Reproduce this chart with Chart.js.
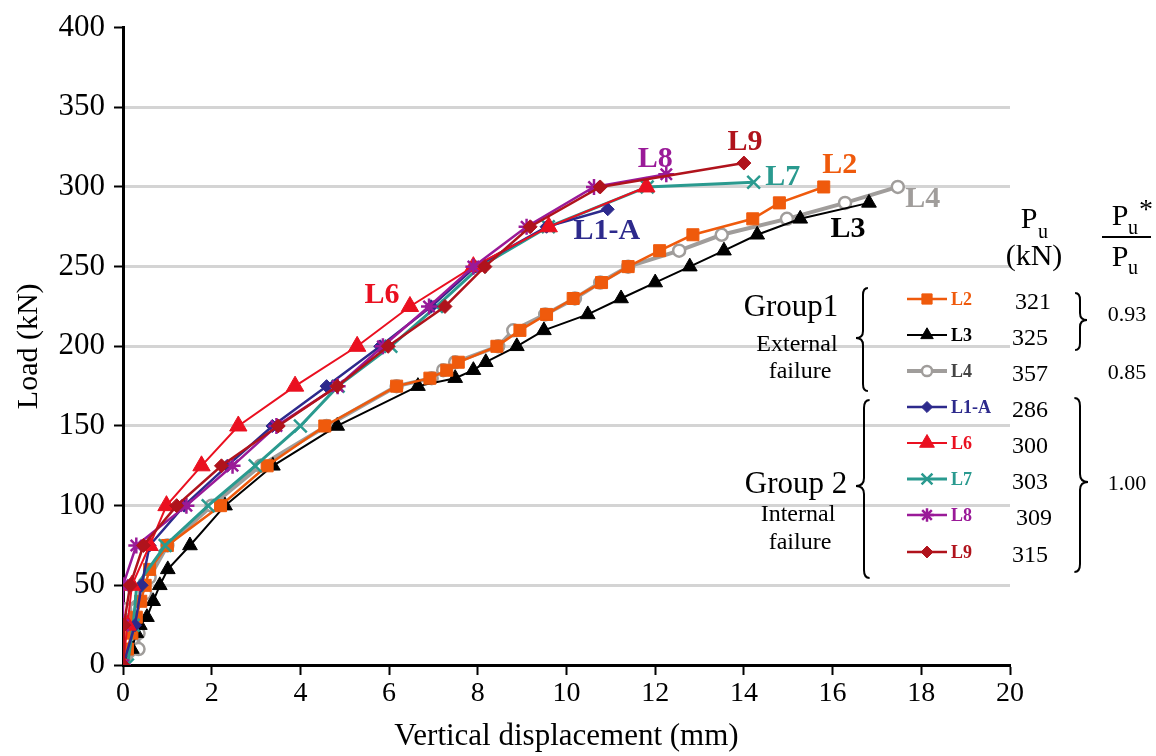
<!DOCTYPE html>
<html lang="en">
<head>
    <meta charset="UTF-8">
    <title>Load - displacement</title>
    <script src="https://cdn.jsdelivr.net/npm/chart.js"></script>
    <style>
        body { margin: 0; background: #fff; }
        #wrap { width: 1156px; height: 756px; }
    </style>
</head>
<body>
<div id="wrap"><canvas id="myChart" width="1156" height="756"></canvas></div>
<script>
// displacement (mm) and load (kN)
const l2X = [0, 0.1, 0.2, 0.3, 0.4, 0.5, 0.6, 1.0, 2.2, 3.25, 4.55, 6.17, 6.92, 7.3, 7.56, 8.43, 8.95, 9.55, 10.15, 10.79, 11.39, 12.1, 12.85, 14.2, 14.8, 15.8];
const l2Y = [0, 10, 20, 30, 40, 50, 60, 75, 100, 125, 150, 175, 180, 185, 190, 200, 210, 220, 230, 240, 250, 260, 270, 280, 290, 300];
const l3X = [0, 0.2, 0.3, 0.38, 0.54, 0.68, 0.83, 1.01, 1.51, 2.3, 3.38, 4.83, 6.65, 7.49, 7.9, 8.18, 8.88, 9.49, 10.48, 11.23, 12.0, 12.78, 13.55, 14.3, 15.27, 16.82];
const l3Y = [0, 10, 20, 25, 30, 40, 50, 60, 75, 100, 125, 150, 175, 180, 185, 190, 200, 210, 220, 230, 240, 250, 260, 270, 280, 290];
const l4X = [0, 0.35, 0.35, 0.05, 0.5, 0.6, 1.0, 2.0, 3.1, 4.59, 6.17, 6.96, 7.22, 7.49, 8.46, 8.8, 9.52, 10.19, 10.76, 11.39, 12.54, 13.5, 14.97, 16.28, 17.47];
const l4Y = [0, 10, 20, 35, 45, 55, 75, 100, 125, 150, 175, 180, 185, 190, 200, 210, 220, 230, 240, 250, 260, 270, 280, 290, 300];
const l1aX = [0, 0.27, 0.42, 0.6, 1.38, 2.35, 3.37, 4.59, 5.8, 6.95, 7.95, 9.55, 10.93];
const l1aY = [0, 25, 50, 75, 100, 125, 150, 175, 200, 225, 250, 275, 286];
const l6X = [0, 0.1, 0.2, 0.6, 0.98, 1.77, 2.6, 3.88, 5.28, 6.47, 7.9, 9.6, 11.8];
const l6Y = [0, 25, 50, 75, 100, 125, 150, 175, 200, 225, 250, 275, 300];
const l7X = [0.1, 0.23, 0.31, 0.95, 1.92, 2.98, 4.0, 4.85, 6.04, 7.07, 8.05, 9.59, 11.82, 14.22];
const l7Y = [0, 25, 50, 75, 100, 125, 150, 175, 200, 225, 250, 275, 300, 303];
const l8X = [0, 0, 0, 0.3, 1.43, 2.47, 3.46, 4.84, 5.86, 6.9, 7.9, 9.1, 10.62, 12.25];
const l8Y = [0, 25, 50, 75, 100, 125, 150, 175, 200, 225, 250, 275, 300, 308];
const l9X = [0, 0.02, 0.16, 0.46, 1.21, 2.22, 3.5, 4.83, 5.98, 7.26, 8.16, 9.18, 10.76, 14.0];
const l9Y = [0, 25, 50, 75, 100, 125, 150, 175, 200, 225, 250, 275, 300, 315];

const names = ['L2', 'L3', 'L4', 'L1-A', 'L6', 'L7', 'L8', 'L9'];
const puValues = ['321', '325', '357', '286', '300', '303', '309', '315'];
const ratioValues = ['0.93', '0.85', '1.00'];
const xTicks = [0, 2, 4, 6, 8, 10, 12, 14, 16, 18, 20];

function pts(xs, ys) {
    return xs.map((x, i) => ({ x: x, y: ys[i] }));
}

const serif = '"Liberation Serif", "Times New Roman", serif';

// style for each series (colour, marker, width)
const styles = {
    'L2':   { color: '#ef5a0c', fill: '#ef5a0c', style: 'rect', r: 8.5, bw: 1, lw: 2.5 },
    'L3':   { color: '#000000', fill: '#000000', style: 'triangle', r: 8.5, bw: 1, lw: 2 },
    'L4':   { color: '#a09d9b', fill: '#ffffff', style: 'circle', r: 6, bw: 2.5, lw: 4 },
    'L1-A': { color: '#2d2a8c', fill: '#2d2a8c', style: 'rectRot', r: 6.5, bw: 1, lw: 2.5 },
    'L6':   { color: '#ea1020', fill: '#ea1020', style: 'triangle', r: 10, bw: 1, lw: 2 },
    'L7':   { color: '#2a9a8f', fill: '#2a9a8f', style: 'crossRot', r: 9, bw: 2.5, lw: 3 },
    'L8':   { color: '#9a1a98', fill: '#9a1a98', style: 'star', r: 8, bw: 2.5, lw: 2.5 },
    'L9':   { color: '#b0131c', fill: '#b0131c', style: 'rectRot', r: 7, bw: 1, lw: 2.5 }
};

const seriesData = {
    'L2': pts(l2X, l2Y), 'L3': pts(l3X, l3Y), 'L4': pts(l4X, l4Y), 'L1-A': pts(l1aX, l1aY),
    'L6': pts(l6X, l6Y), 'L7': pts(l7X, l7Y), 'L8': pts(l8X, l8Y), 'L9': pts(l9X, l9Y)
};

// label next to a curve: anchored to a point index, pixel offset
const curveLabels = [
    { name: 'L9', idx: -1, dx: 1, dy: -21 },
    { name: 'L8', idx: -1, dx: -11, dy: -15 },
    { name: 'L7', idx: -1, dx: 29, dy: -5 },
    { name: 'L2', idx: -1, dx: 16, dy: -22 },
    { name: 'L4', idx: -1, dx: 25, dy: 12 },
    { name: 'L3', idx: -1, dx: -21, dy: 26 },
    { name: 'L1-A', idx: -1, dx: -1, dy: 22 },
    { name: 'L6', idx: 9, dx: -28, dy: -11 }
];

const drawOrder = ['L4', 'L3', 'L2', 'L7', 'L1-A', 'L6', 'L8', 'L9'];
const datasets = drawOrder.map((n, i) => {
    const s = styles[n];
    return {
        label: n,
        data: seriesData[n],
        showLine: true,
        borderColor: s.color,
        backgroundColor: s.fill,
        borderWidth: s.lw,
        pointStyle: s.style,
        pointRadius: s.r,
        pointBorderWidth: s.bw,
        pointBorderColor: s.color,
        pointBackgroundColor: s.fill,
        order: drawOrder.length - i
    };
});

function brace(ctx, x0, y1, y2, ym, w, s) {
    // s = -1 -> "{", s = 1 -> "}"
    const tip = x0 + s * w;
    const hook = x0 - s * 0.7 * w;
    ctx.beginPath();
    ctx.moveTo(hook, y1);
    ctx.quadraticCurveTo(x0, y1, x0, y1 + w);
    ctx.lineTo(x0, ym - w);
    ctx.quadraticCurveTo(x0, ym, tip, ym);
    ctx.quadraticCurveTo(x0, ym, x0, ym + w);
    ctx.lineTo(x0, y2 - w);
    ctx.quadraticCurveTo(x0, y2, hook, y2);
    ctx.stroke();
}

const annotations = {
    id: 'annotations',
    afterDatasetsDraw(chart) {
        const ctx = chart.ctx;
        const xs = chart.scales.x, ys = chart.scales.y;
        ctx.save();
        // labels next to the curves
        ctx.textAlign = 'center';
        ctx.textBaseline = 'middle';
        curveLabels.forEach(l => {
            const d = seriesData[l.name];
            const p = d[l.idx < 0 ? d.length + l.idx : l.idx];
            ctx.font = 'bold 30px ' + serif;
            ctx.fillStyle = styles[l.name].color;
            ctx.fillText(l.name, xs.getPixelForValue(p.x) + l.dx, ys.getPixelForValue(p.y) + l.dy);
        });

        // table on the right
        ctx.fillStyle = '#000';
        ctx.font = '31px ' + serif;
        ctx.fillText('Group1', 791, 308);
        ctx.fillText('Group 2', 796, 485);
        ctx.font = '24px ' + serif;
        ctx.fillText('External', 797, 345);
        ctx.fillText('failure', 800, 372);
        ctx.fillText('Internal', 798, 515);
        ctx.fillText('failure', 800, 543);

        ctx.font = '30px ' + serif;
        ctx.fillText('P', 1029, 220);
        ctx.fillText('(kN)', 1034, 257);
        ctx.fillText('P', 1120, 217);
        ctx.fillText('P', 1120, 258);
        ctx.font = '20px ' + serif;
        ctx.fillText('u', 1043, 233);
        ctx.fillText('u', 1133, 229);
        ctx.fillText('u', 1133, 269);
        ctx.font = '28px ' + serif;
        ctx.fillText('*', 1146, 211);
        ctx.lineWidth = 2;
        ctx.strokeStyle = '#000';
        ctx.beginPath();
        ctx.moveTo(1102, 237);
        ctx.lineTo(1151, 237);
        ctx.stroke();

        const rowY = [299, 335, 371, 407, 443, 479, 515, 552];
        const valX = [1033, 1030, 1030, 1030, 1030, 1030, 1034, 1030];
        names.forEach((n, i) => {
            const s = styles[n];
            const y = rowY[i];
            ctx.strokeStyle = s.color;
            ctx.lineWidth = s.lw;
            ctx.beginPath();
            ctx.moveTo(907, y);
            ctx.lineTo(947, y);
            ctx.stroke();
            ctx.fillStyle = s.fill;
            ctx.lineWidth = s.bw;
            Chart.helpers.drawPoint(ctx, { pointStyle: s.style, radius: s.r * 0.85, borderWidth: s.bw, rotation: 0 }, 927, y);
            ctx.textAlign = 'left';
            ctx.font = 'bold 18px ' + serif;
            ctx.fillStyle = n === 'L4' ? '#444' : s.color;
            ctx.fillText(n, 951, y + 1);
            ctx.textAlign = 'center';
            ctx.font = '24px ' + serif;
            ctx.fillStyle = '#000';
            ctx.fillText(puValues[i], valX[i], y + 4);
        });

        ctx.font = '22px ' + serif;
        ctx.fillText(ratioValues[0], 1127, 315);
        ctx.fillText(ratioValues[1], 1127, 373);
        ctx.fillText(ratioValues[2], 1127, 484);

        ctx.strokeStyle = '#000';
        ctx.lineWidth = 2;
        brace(ctx, 863, 288, 391, 338, 7, -1);
        brace(ctx, 864, 400, 578, 486, 8, -1);
        brace(ctx, 1080, 293, 350, 320, 7, 1);
        brace(ctx, 1080, 398, 572, 482, 8, 1);
        ctx.restore();
    }
};

const ctx = document.getElementById('myChart').getContext('2d');
const myChart = new Chart(ctx, {
    type: 'scatter',
    data: { datasets: datasets },
    plugins: [annotations],
    options: {
        responsive: false,
        animation: false,
        layout: { padding: { left: 8, right: 146, top: 25, bottom: 0 } },
        plugins: {
            legend: { display: false },
            tooltip: { enabled: false }
        },
        scales: {
            x: {
                type: 'linear',
                min: 0,
                max: 20,
                afterBuildTicks: axis => { axis.ticks = xTicks.map(v => ({ value: v })); },
                afterFit: axis => { axis.height = 756 - 665; },
                border: { color: '#000', width: 3 },
                grid: { drawOnChartArea: false, tickColor: '#000', tickLength: 10, tickWidth: 2 },
                ticks: { color: '#000', font: { family: serif, size: 28, lineHeight: 1.0 }, padding: 5, maxRotation: 0 },
                title: { display: true, text: 'Vertical displacement (mm)', color: '#000', font: { family: serif, size: 31, lineHeight: 1.0 }, padding: { top: 0, bottom: 4 } }
            },
            y: {
                type: 'linear',
                min: 0,
                max: 400,
                afterFit: axis => { axis.width = 123 - 8; },
                border: { color: '#000', width: 3 },
                grid: {
                    color: c => (c.tick && (c.tick.value === 0 || c.tick.value === 400)) ? 'rgba(0,0,0,0)' : '#d4d4d4',
                    lineWidth: 3,
                    tickColor: '#000',
                    tickLength: 9,
                    tickWidth: 2
                },
                ticks: { stepSize: 50, color: '#000', font: { family: serif, size: 31 }, padding: 9 },
                title: { display: true, text: 'Load (kN)', color: '#000', font: { family: serif, size: 30, lineHeight: 1.0 }, padding: { top: 6, bottom: 0 } }
            }
        }
    }
});
</script>
</body>
</html>
